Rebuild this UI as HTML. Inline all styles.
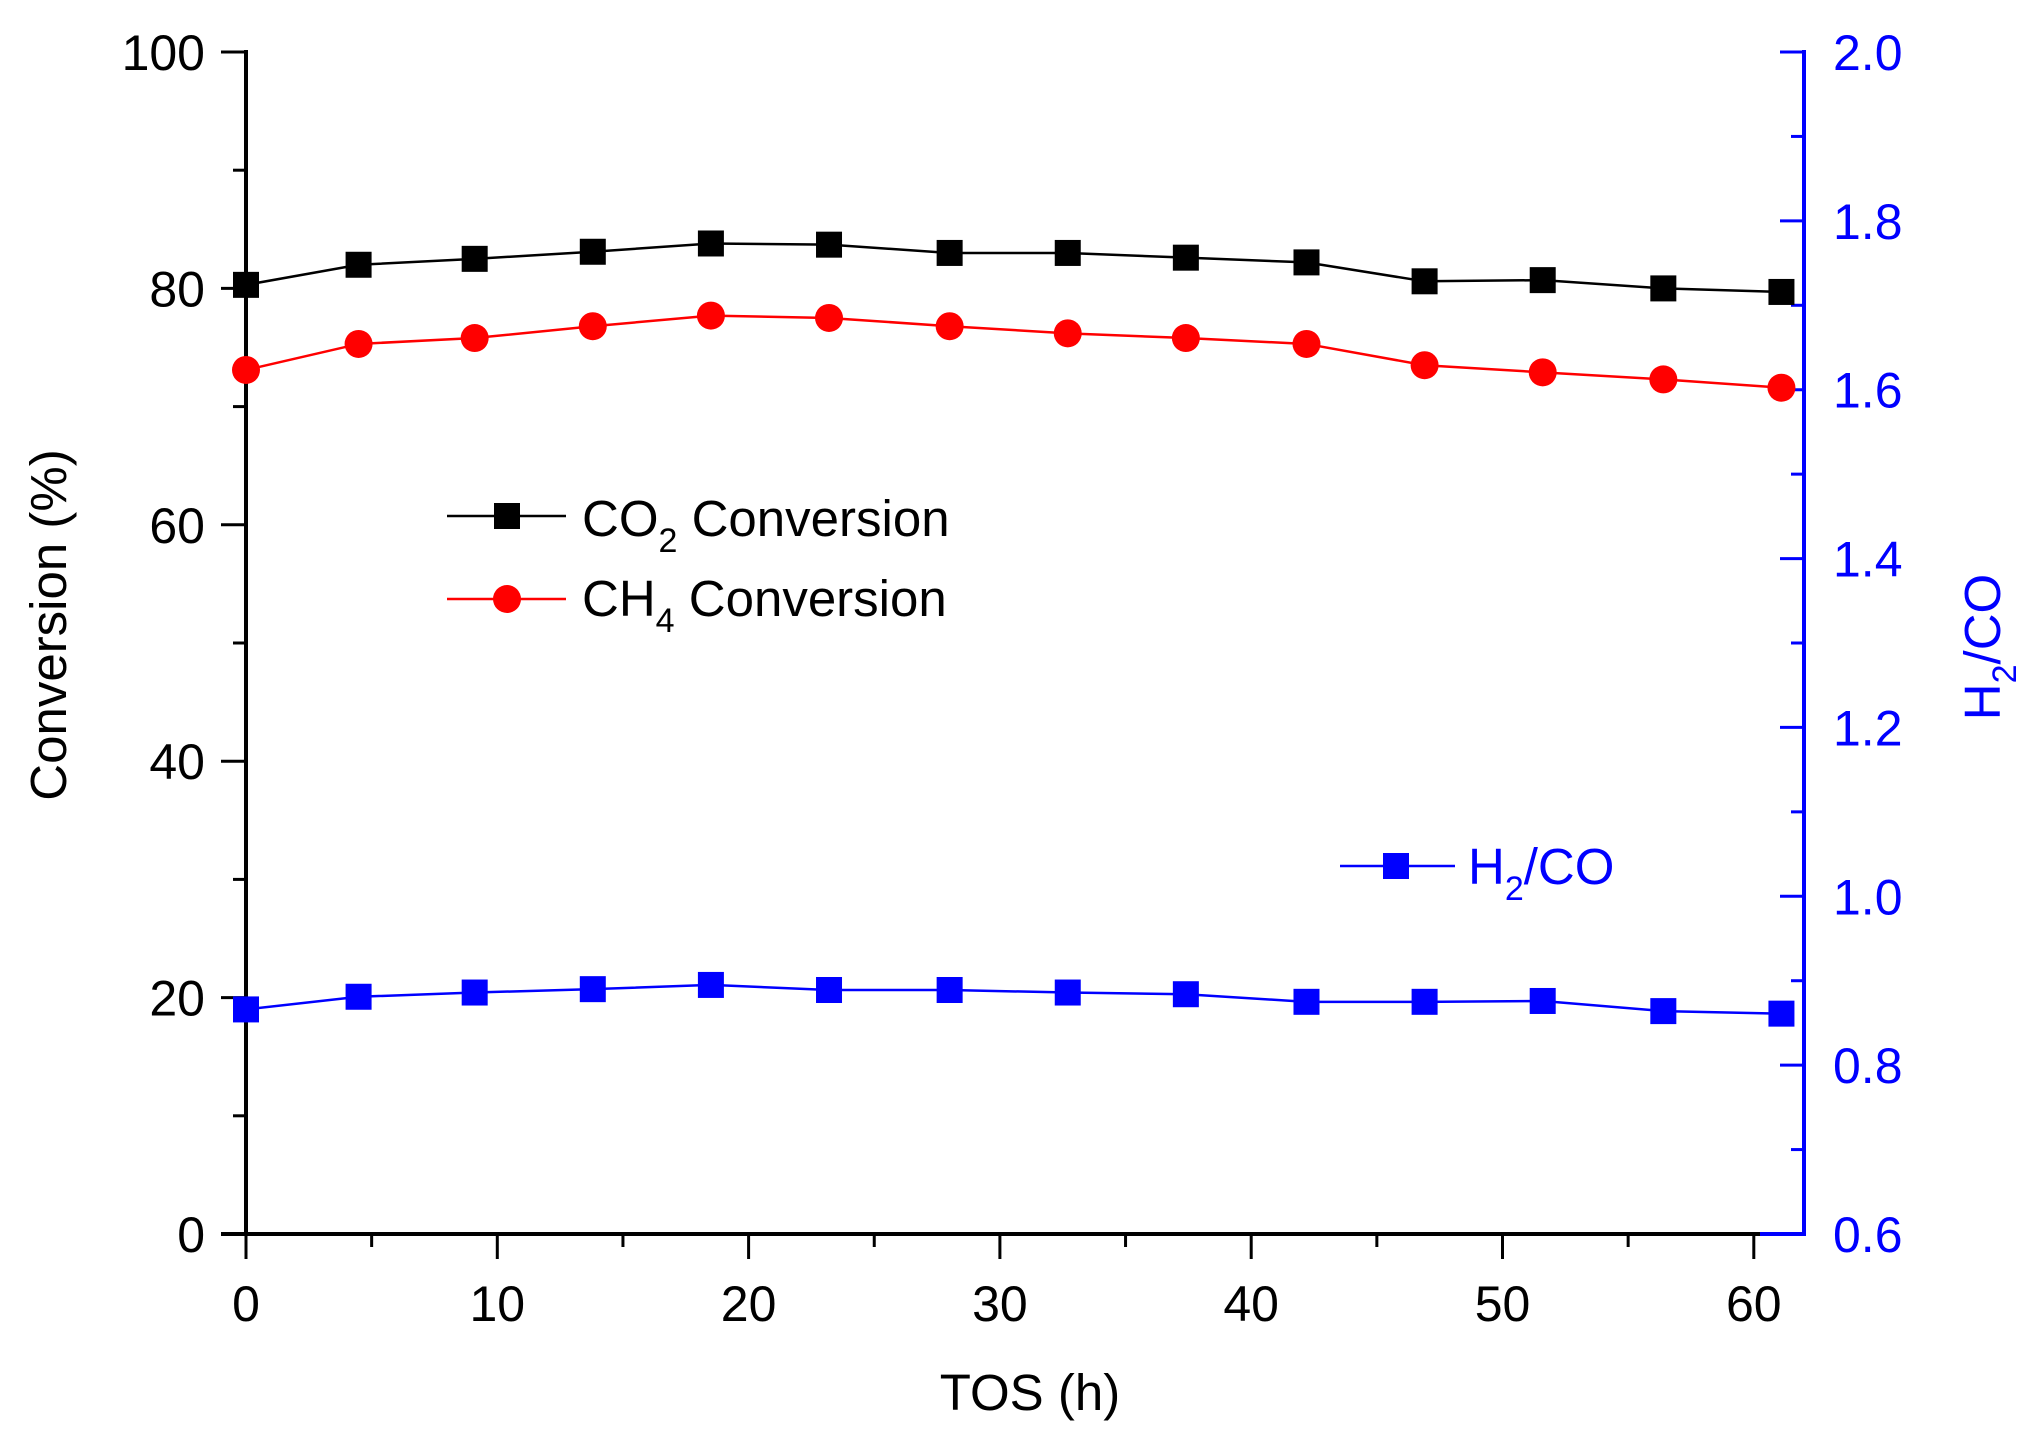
<!DOCTYPE html>
<html><head><meta charset="utf-8"><style>
html,body{margin:0;padding:0;background:#fff}
svg{display:block}
text{font-family:"Liberation Sans",Arial,sans-serif}
</style></head><body>
<svg id="s" width="2030" height="1433" xmlns="http://www.w3.org/2000/svg">
<rect width="2030" height="1433" fill="#fff"/>
<g id="g"></g>
<!-- legend -->
<line x1="447" y1="516" x2="566" y2="516" stroke="#000" stroke-width="2.5"/>
<rect x="494" y="503" width="26" height="26" fill="#000"/>
<text x="582" y="536" font-size="51">CO<tspan font-size="34" dy="16">2</tspan><tspan dy="-16"> Conversion</tspan></text>
<line x1="447" y1="599" x2="566" y2="599" stroke="#f00" stroke-width="2.5"/>
<circle cx="507" cy="599" r="14" fill="#f00"/>
<text x="582" y="616" font-size="51">CH<tspan font-size="34" dy="16">4</tspan><tspan dy="-16"> Conversion</tspan></text>
<line x1="1340" y1="866" x2="1455" y2="866" stroke="#00f" stroke-width="2.5"/>
<rect x="1383" y="853" width="26" height="26" fill="#00f"/>
<text x="1468" y="884" font-size="51" fill="#00f">H<tspan font-size="34" dy="16">2</tspan><tspan dy="-16">/CO</tspan></text>
<!-- titles -->
<text x="1030" y="1410" font-size="51" text-anchor="middle">TOS (h)</text>
<text transform="translate(66,625) rotate(-90)" font-size="51" text-anchor="middle">Conversion (%)</text>
<text transform="translate(2000,647) rotate(-90)" font-size="51" text-anchor="middle" fill="#00f">H<tspan font-size="34" dy="16">2</tspan><tspan dy="-16">/CO</tspan></text>
</svg>
<script>
var g=document.getElementById('g'),h='';
var X0=246,XS=25.13,Y0=1234,YS=11.82;
function px(t){return X0+t*XS}
function py(v){return Y0-v*YS}
function pyr(v){return Y0-(v-0.6)*(1182/1.4)}
h+='<line x1="246" y1="50" x2="246" y2="1236" stroke="#000" stroke-width="4"/>';
h+='<line x1="221" y1="1234" x2="1804" y2="1234" stroke="#000" stroke-width="4"/>';
h+='<line x1="1804" y1="50" x2="1804" y2="1236" stroke="#00f" stroke-width="4"/>';
h+='<line x1="1760" y1="1234" x2="1806" y2="1234" stroke="#00f" stroke-width="4"/>';
for(var v=0;v<=100;v+=10){var y=py(v),L=(v%20==0)?25:13;
 h+='<line x1="'+(246-L)+'" y1="'+y+'" x2="246" y2="'+y+'" stroke="#000" stroke-width="3"/>';
 if(v%20==0)h+='<text x="205" y="'+(y+18)+'" font-size="50" text-anchor="end">'+v+'</text>';}
for(var t=0;t<=60;t+=5){var x=px(t),L=(t%10==0)?25:13;
 h+='<line x1="'+x+'" y1="1234" x2="'+x+'" y2="'+(1234+L)+'" stroke="#000" stroke-width="3"/>';
 if(t%10==0)h+='<text x="'+x+'" y="1321" font-size="50" text-anchor="middle">'+t+'</text>';}
for(var i=0;i<=14;i++){var r=0.6+i*0.1,y=pyr(r),L=(i%2==0)?24:13;
 h+='<line x1="'+(1804-L)+'" y1="'+y+'" x2="1804" y2="'+y+'" stroke="#00f" stroke-width="3"/>';
 if(i%2==0)h+='<text x="1833" y="'+(y+18)+'" font-size="50" fill="#00f">'+r.toFixed(1)+'</text>';}
var T=[0,4.48,9.1,13.8,18.5,23.2,28.0,32.7,37.4,42.2,46.9,51.6,56.4,61.1];
var C=[80.3,82.0,82.5,83.1,83.8,83.7,83.0,83.0,82.6,82.2,80.6,80.7,80.0,79.7];
var M=[73.1,75.3,75.8,76.8,77.7,77.5,76.8,76.2,75.8,75.3,73.5,72.9,72.3,71.6];
var H=[0.866,0.881,0.886,0.890,0.895,0.889,0.889,0.886,0.884,0.875,0.875,0.876,0.864,0.861];
function series(vals,f,col,shape){var p=[],s='';
 for(var i=0;i<T.length;i++){var x=px(T[i]),y=f(vals[i]);p.push(x+','+y);
  s+=shape=='c'?'<circle cx="'+x+'" cy="'+y+'" r="14" fill="'+col+'"/>':'<rect x="'+(x-13)+'" y="'+(y-13)+'" width="26" height="26" fill="'+col+'"/>';}
 return '<polyline points="'+p.join(' ')+'" fill="none" stroke="'+col+'" stroke-width="2.5"/>'+s;}
h+=series(C,py,'#000','s');h+=series(M,py,'#f00','c');h+=series(H,pyr,'#00f','s');
g.innerHTML=h;
</script>
</body></html>
